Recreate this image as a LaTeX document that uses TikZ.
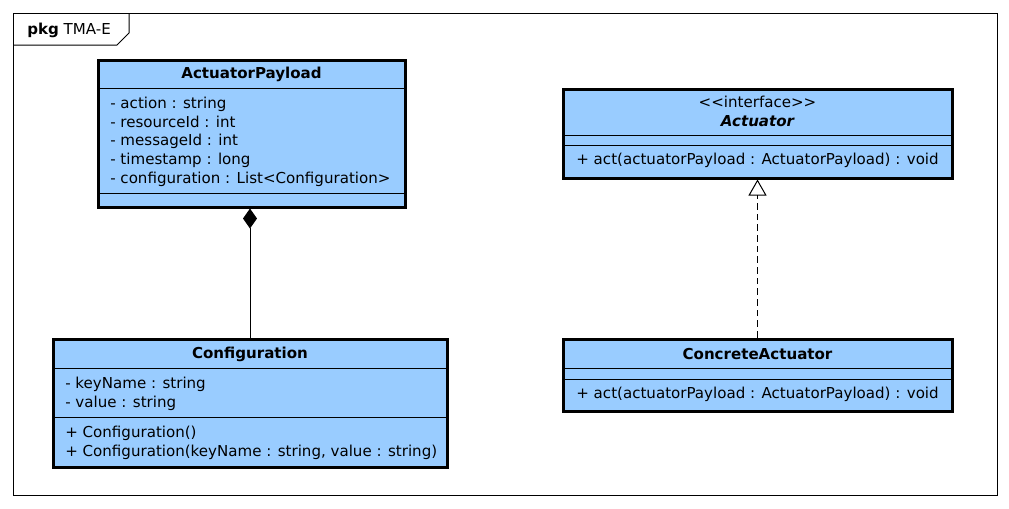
\documentclass[tikz,border=0pt]{standalone}
\usepackage{fontspec}
\setmainfont{DejaVu Sans}
\usetikzlibrary{arrows.meta,fit}
\definecolor{classblue}{RGB}{153,204,255}
\newcommand\umlfont{\fontsize{11.3}{13}\selectfont}

\begin{document}
\begin{tikzpicture}[x=0.75pt,y=-0.75pt,
  classbox/.style={draw,line width=2.25pt,fill=classblue,inner sep=0pt},
  title/.style={font=\umlfont\bfseries,inner sep=0pt},
  member/.style={font=\umlfont,anchor=west,inner sep=0pt},
  op/.style={font=\umlfont,inner sep=0pt},
  part/.style={line width=0.75pt}]
\path[use as bounding box] (0,0) rectangle (1009,508);

% package frame
\draw[part] (13,13) rectangle (997,495);
\draw[part] (13,45) -- (117,45) -- (129,33) -- (129,13);
\node[member] (pkg) at (27,30) {\textbf{pkg} TMA-E};

% ActuatorPayload
\node[classbox,fit={(98,60) (405,207)}] (payload) {};
\node[title] (payloadtitle) at (251.5,74) {ActuatorPayload};
\draw[part] (98,88) -- (405,88);
\draw[part] (98,193) -- (405,193);
\node[member] (action) at (110,104) {- action : string};
\node[member] (resource) at (110,122) {- resourceId : int};
\node[member] (message) at (110,141) {- messageId : int};
\node[member] (stamp) at (110,160) {- timestamp : long};
\node[member] (confs) at (110,179) {- configuration : List<Configuration>};

% Configuration
\node[classbox,fit={(53,339) (447,467)}] (conf) {};
\node[title] (conftitle) at (250,354) {Configuration};
\draw[part] (53,368) -- (447,368);
\draw[part] (53,417) -- (447,417);
\node[member] (keyname) at (65,384) {- keyName : string};
\node[member] (value) at (65,403) {- value : string};
\node[member] (ctor) at (65,433) {+ Configuration()};
\node[member] (ctorargs) at (65,452) {+ Configuration(keyName : string, value : string)};

% Actuator
\node[classbox,fit={(563,89) (952,178)}] (actuator) {};
\node[op] (stereo) at (757.5,102) {<{}<interface>{}>};
\node[title] (actuatortitle) at (757.5,121) {\itshape Actuator};
\draw[part] (563,135) -- (952,135);
\draw[part] (563,145) -- (952,145);
\node[op] (act) at (757.5,160) {+ act(actuatorPayload : ActuatorPayload) : void};

% ConcreteActuator
\node[classbox,fit={(563,339) (952,411)}] (concrete) {};
\node[title] (concretetitle) at (757.5,354) {ConcreteActuator};
\draw[part] (563,368) -- (952,368);
\draw[part] (563,379) -- (952,379);
\node[op] (concreteact) at (757.5,394) {+ act(actuatorPayload : ActuatorPayload) : void};

% relations
\draw[part,{Diamond[length=15pt,width=10.5pt]}-] (payload.south -| conf.north) -- (conf.north);
\draw[part,dash pattern=on 5pt off 3pt,-{Triangle[open,length=12pt,width=13.5pt]}] (concrete.north) -- (actuator.south);
\end{tikzpicture}
\end{document}
